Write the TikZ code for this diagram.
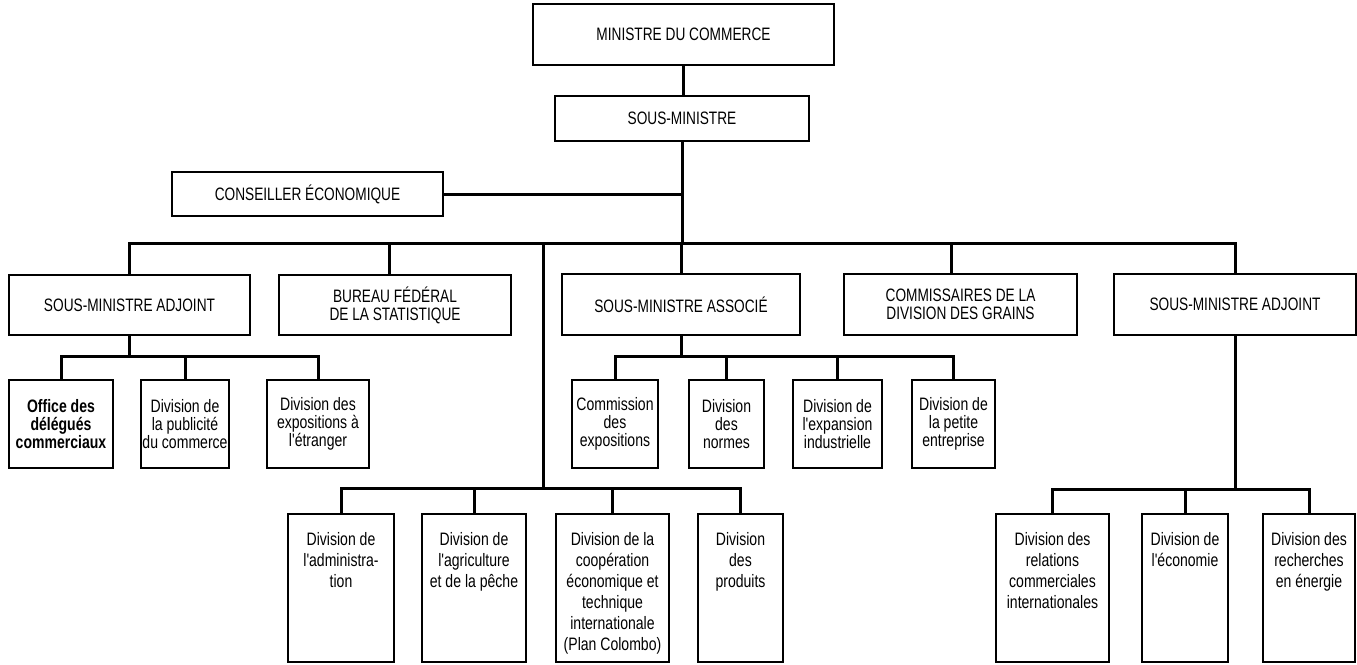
\documentclass[tikz,border=0pt]{standalone}
\usepackage{fontspec}
\newfontfamily\capfont[FakeStretch=0.76]{Liberation Sans}
\newfontfamily\lowfont[FakeStretch=0.78]{Liberation Sans}
% tall box: fixed height, text hung from the top
\newcommand\hangtext[2]{\parbox[c][148pt][t]{#1}{\centering\vspace*{18pt}#2}}
\begin{document}
\begin{tikzpicture}[x=1pt,y=-1pt,
  frame/.style={draw, line width=2pt, inner sep=0pt, align=center,
    font=\capfont\fontsize{18pt}{18pt}\selectfont},
  unit/.style={frame, font=\lowfont\fontsize{18pt}{18pt}\selectfont},
  tall/.style={draw, line width=2pt, inner sep=0pt,
    font=\lowfont\fontsize{18pt}{21pt}\selectfont},
  wire/.style={line width=3pt, line join=miter}]
\useasboundingbox (0,0) rectangle (1357,664);

% top of the hierarchy
\node[frame, minimum width=301pt, minimum height=61pt] (min) at (683.5,34.5) {MINISTRE DU COMMERCE};
\node[frame, minimum width=254pt, minimum height=45pt] (sm) at (682,118.5) {SOUS-MINISTRE};
\node[frame, minimum width=271pt, minimum height=44pt] (ce) at (307.5,194) {CONSEILLER ÉCONOMIQUE};

% second level
\node[frame, minimum width=241pt, minimum height=60pt] (sma1) at (129.5,305) {SOUS-MINISTRE ADJOINT};
\node[frame, minimum width=232pt, minimum height=60pt] (bur) at (395,305) {BUREAU FÉDÉRAL\\DE LA STATISTIQUE};
\node[frame, minimum width=238pt, minimum height=61pt] (sa) at (681,304.5) {SOUS-MINISTRE ASSOCIÉ};
\node[frame, minimum width=233pt, minimum height=61pt] (com) at (960.5,304.5) {COMMISSAIRES DE LA\\DIVISION DES GRAINS};
\node[frame, minimum width=242pt, minimum height=61pt] (sma2) at (1235,304.5) {SOUS-MINISTRE ADJOINT};

% divisions under the first assistant deputy minister
\node[unit, minimum width=104pt, minimum height=88pt] (off) at (61,424) {\bfseries Office des\\\bfseries délégués\\\bfseries commerciaux};
\node[unit, minimum width=88pt, minimum height=88pt] (pub) at (185,424) {Division de\\la publicité\\du commerce};
\node[unit, minimum width=102pt, minimum height=88pt] (exp) at (318,424) {Division des\\expositions à\\l'étranger};

% divisions under the associate deputy minister
\node[unit, minimum width=86pt, minimum height=88pt] (cx) at (615,424) {Commission\\des\\expositions};
\node[unit, minimum width=75pt, minimum height=88pt] (nor) at (726.5,424) {Division\\des\\normes};
\node[unit, minimum width=89pt, minimum height=88pt] (ind) at (837.5,424) {Division de\\l'expansion\\industrielle};
\node[unit, minimum width=83pt, minimum height=88pt] (pet) at (953.5,424) {Division de\\la petite\\entreprise};

% divisions reporting to the deputy minister
\node[tall] (adm) at (341,588) {\hangtext{106pt}{Division de\\l'administra-\\tion}};
\node[tall] (agr) at (474,588) {\hangtext{104pt}{Division de\\l'agriculture\\et de la pêche}};
\node[tall] (coo) at (612.5,588) {\hangtext{113pt}{Division de la\\coopération\\économique et\\technique\\internationale\\(Plan Colombo)}};
\node[tall] (pro) at (740.5,588) {\hangtext{85pt}{Division\\des\\produits}};

% divisions under the second assistant deputy minister
\node[tall] (rel) at (1052.5,588) {\hangtext{113pt}{Division des\\relations\\commerciales\\internationales}};
\node[tall] (eco) at (1185,588) {\hangtext{86pt}{Division de\\l'économie}};
\node[tall] (rec) at (1309,588) {\hangtext{92pt}{Division des\\recherches\\en énergie}};

% junction points of the connector lines
\coordinate (bus) at (682,243);
\coordinate (spine) at (543,243);
\coordinate (dsub) at (543,488);
\coordinate (lsub) at (129,356);
\coordinate (msub) at (683,356);
\coordinate (rsub) at (1236,489);

% connectors
\draw[wire] (min.south) -- (min.south |- sm.north);
\draw[wire] (sm.south) -- (sm.south |- bus);
\draw[wire] (ce.east) -- (ce.east -| sm.south);
\draw[wire] (sma1.north) -- (sma1.north |- bus) -- (sma2.north |- bus) -- (sma2.north);
\draw[wire] ([xshift=-6pt]bur.north) -- ([xshift=-6pt]bur.north |- bus);
\draw[wire] (sa.north) -- (sa.north |- bus);
\draw[wire] ([xshift=-9pt]com.north) -- ([xshift=-9pt]com.north |- bus);

\draw[wire] (sma1.south) -- (sma1.south |- lsub);
\draw[wire] (off.north) -- (off.north |- lsub) -- (exp.north |- lsub) -- (exp.north);
\draw[wire] (pub.north) -- (pub.north |- lsub);

\draw[wire] (sa.south) -- (sa.south |- msub);
\draw[wire] (cx.north) -- (cx.north |- msub) -- (pet.north |- msub) -- (pet.north);
\draw[wire] (nor.north) -- (nor.north |- msub);
\draw[wire] (ind.north) -- (ind.north |- msub);

\draw[wire] (spine) -- (dsub);
\draw[wire] (adm.north) -- (adm.north |- dsub) -- (pro.north |- dsub) -- (pro.north);
\draw[wire] (agr.north) -- (agr.north |- dsub);
\draw[wire] (coo.north) -- (coo.north |- dsub);

\draw[wire] (sma2.south) -- (sma2.south |- rsub);
\draw[wire] (rel.north) -- (rel.north |- rsub) -- (rec.north |- rsub) -- (rec.north);
\draw[wire] (eco.north) -- (eco.north |- rsub);
\end{tikzpicture}
\end{document}
